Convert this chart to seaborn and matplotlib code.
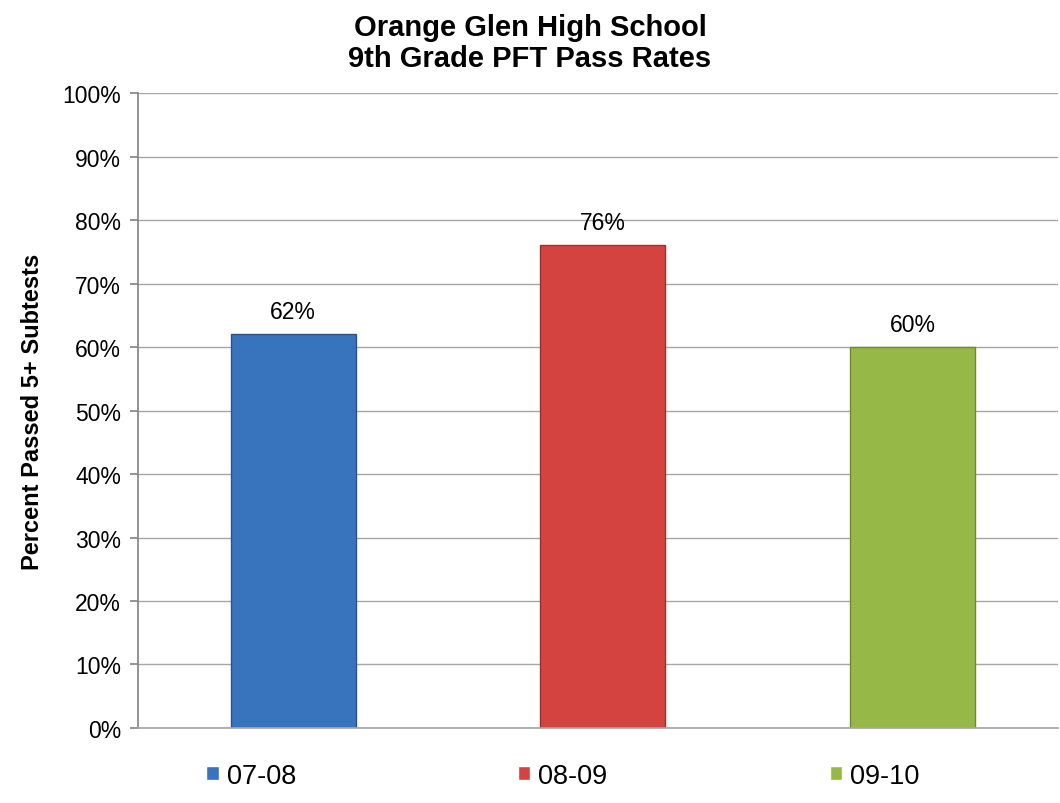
import matplotlib
matplotlib.use("Agg")
import matplotlib.pyplot as plt
import seaborn as sns
import pandas as pd

seasons = ["07-08", "08-09", "09-10"]
pass_rates = [62, 76, 60]
bar_colors = ["#3873BE", "#D4433F", "#96B846"]
edge_colors = ["#2A5290", "#9E302C", "#6E8A32"]
title = "Orange Glen High School\n9th Grade PFT Pass Rates"
ylabel = "Percent Passed 5+ Subtests"
yticks = list(range(0, 101, 10))

sns.set_theme(style="white")
plt.rcParams["font.family"] = ["Liberation Sans", "DejaVu Sans"]
plt.rcParams["text.color"] = "black"
plt.rcParams["axes.labelcolor"] = "black"
plt.rcParams["ytick.color"] = "black"

df = pd.DataFrame({"season": seasons, "rate": pass_rates})

fig = plt.figure(figsize=(10.6, 8.04), dpi=100)
ax = fig.add_axes([0.130, 0.0933, 0.868, 0.7897])

sns.barplot(data=df, x="season", y="rate", hue="season", palette=bar_colors,
            width=0.404, dodge=False, ax=ax, linewidth=1.0,
            saturation=1, legend=True)
for c, ec in zip(ax.containers, edge_colors):
    for p in c.patches:
        p.set_edgecolor(ec)

ax.set_ylim(0, 100)
ax.set_xlim(-0.502, 2.47)
ax.set_yticks(yticks)
ax.set_yticklabels([f"{t}%" for t in yticks], fontsize=16.5, color="black")
ax.yaxis.grid(True, color="#A6A6A6", linewidth=1)
ax.set_axisbelow(True)
ax.tick_params(axis="y", which="both", left=True, length=6, color="#868686", pad=6)
ax.tick_params(axis="x", bottom=False, labelbottom=False)
ax.set_xlabel("")
ax.set_ylabel(ylabel, fontsize=17, fontweight="bold", labelpad=13, color="black")
for s in ["top", "right"]:
    ax.spines[s].set_visible(False)
ax.spines["left"].set_color("#868686")
ax.spines["bottom"].set_color("#A6A6A6")

for c in ax.containers:
    ax.bar_label(c, labels=[f"{v:.0f}%" for v in c.datavalues], fontsize=16.5,
                 padding=8, color="black")

fig.suptitle(title, fontsize=21, fontweight="bold", y=0.983, color="black",
             linespacing=1.15)

sns.move_legend(ax, "center", bbox_to_anchor=(0.462, -0.075), ncol=3, frameon=False,
                title=None, fontsize=19.5, handlelength=0.45, handleheight=0.45,
                handletextpad=0.3, columnspacing=8.2)

fig.savefig("out.png", dpi=100)
